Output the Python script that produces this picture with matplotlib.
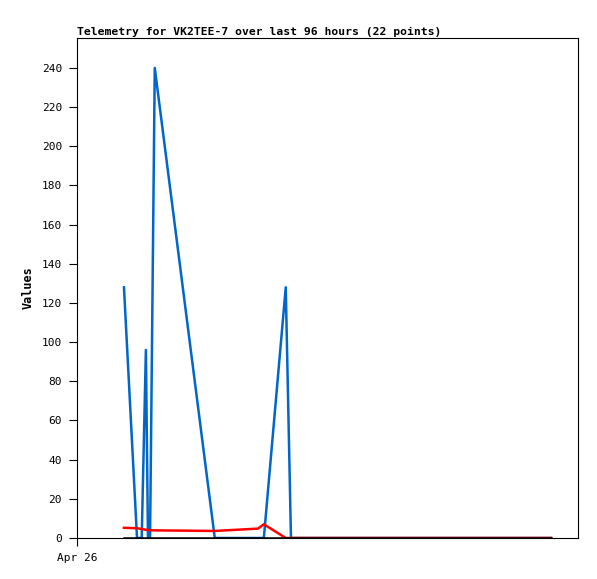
import matplotlib
matplotlib.use("Agg")
import matplotlib.pyplot as plt

# hours since Apr 26 00:00
hours = [9.0, 11.5, 12.4, 13.2, 13.6, 14.0, 14.9, 26.4, 34.7, 35.8, 40.0, 41.0, 90.8]
blue_vals = [128, 0, 0, 96, 0, 0, 240, 0, 0, 0, 128, 0, 0]
red_vals = [5.2, 5.0, 4.6, 4.2, 4.0, 4.0, 3.9, 3.6, 4.8, 7.0, 0, 0, 0]
black_vals = [0, 0, 0, 0, 0, 0, 0, 0, 0, 0, 0, 0, 0]

yticks = list(range(0, 241, 20))
xtick_labels = ["Apr 26"]

plt.rcParams['font.family'] = ['DejaVu Sans Mono']

fig = plt.figure(figsize=(5.97, 5.79), dpi=100)
ax = fig.add_axes([77/597, 41/579, 501/597, 500/579])

ax.plot(hours, blue_vals, color='#0066cc', linewidth=1.8)
ax.plot(hours, red_vals, color='#ff0000', linewidth=1.8)
ax.plot(hours, black_vals, color='black', linewidth=1.8)

ax.set_xlim(0, 96)
ax.set_ylim(0, 255.3)
ax.set_yticks(yticks)
ax.set_yticklabels([str(v) for v in yticks], fontsize=8)
ax.set_xticks([0])
ax.set_xticklabels(xtick_labels, fontsize=8)
ax.tick_params(direction='out', length=5.8, width=0.8, pad=5)

for s in ax.spines.values():
    s.set_linewidth(0.8)

ax.set_ylabel("Values", fontsize=8.5, fontweight='bold', labelpad=5)
ax.set_title("Telemetry for VK2TEE-7 over last 96 hours (22 points)",
             loc='left', fontsize=8.2, fontweight='bold', pad=2)

fig.savefig("out.png", dpi=100)
